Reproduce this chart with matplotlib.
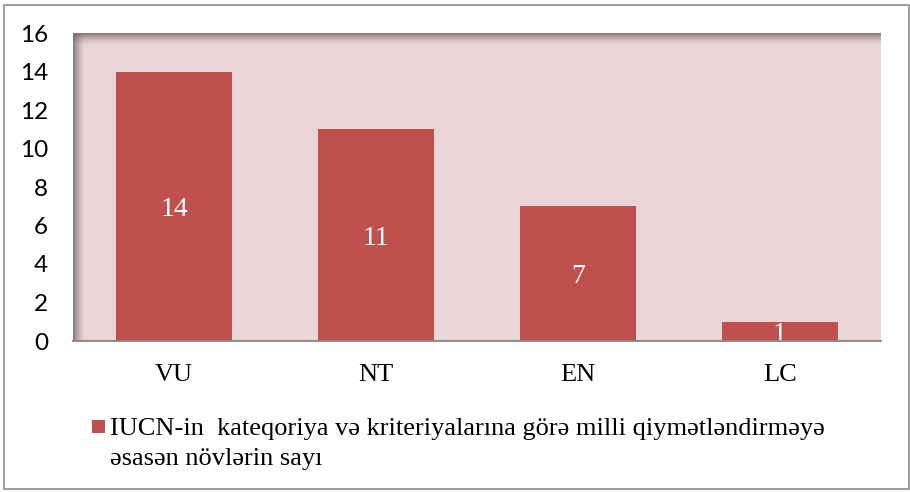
import matplotlib
matplotlib.use("Agg")
import matplotlib.pyplot as plt
import numpy as np
from matplotlib.patches import Rectangle

categories = ["VU", "NT", "EN", "LC"]
values = [14, 11, 7, 1]
yticks = [0, 2, 4, 6, 8, 10, 12, 14, 16]
legend_label = "IUCN-in  kateqoriya və kriteriyalarına görə milli qiymətləndirməyə\nəsasən növlərin sayı"

W, H = 910, 492
fig = plt.figure(figsize=(W / 100, H / 100), dpi=100)
fig.patch.set_facecolor("white")

# outer border
fig.patches.append(Rectangle((4 / W, 3 / H), 905 / W, 484 / H, transform=fig.transFigure,
                             fill=False, edgecolor="#8c8c8c", linewidth=1.2))

ax = fig.add_axes([73 / W, (H - 341) / H, 808 / W, 308 / H])
bg = "#EAD6D6"
ax.set_facecolor(bg)

# shadow gradients on top and left inner edges
n = 64
t = np.linspace(0, 1, n)
base = np.array([0.45, 0.40, 0.41])
top = np.zeros((n, 2, 4))
for i in range(n):
    top[i, :, :3] = base
    top[i, :, 3] = 0.85 * (1 - t[i]) ** 1.6
ax.imshow(top, extent=[0, 1, 1 - 13 / 308, 1], transform=ax.transAxes, aspect="auto", zorder=1,
          interpolation="bilinear")
left = np.zeros((2, n, 4))
for i in range(n):
    left[:, i, :3] = base
    left[:, i, 3] = 0.85 * (1 - t[i]) ** 1.6
ax.imshow(left, extent=[0, 13 / 808, 0, 1], transform=ax.transAxes, aspect="auto", zorder=1,
          interpolation="bilinear")

x = np.arange(len(categories))
bars = ax.bar(x, values, width=0.57, color="#C0504D", zorder=2)
for b, v in zip(bars, values):
    ax.text(b.get_x() + b.get_width() / 2, v / 2, str(v), ha="center", va="center_baseline",
            color="white", fontsize=20, family="Liberation Serif", zorder=3)

ax.set_xlim(-0.5, len(categories) - 0.5)
ax.set_ylim(0, 16)
ax.set_yticks(yticks)
ax.set_yticklabels([str(v) for v in yticks], family="Lato", fontsize=17.5)
ax.set_xticks(x)
ax.set_xticklabels(categories, family="Liberation Serif", fontsize=19)
ax.tick_params(axis="both", length=0)
ax.tick_params(axis="y", pad=18)
ax.tick_params(axis="x", pad=16.5)
for s in ["top", "right", "left"]:
    ax.spines[s].set_visible(False)
ax.spines["bottom"].set_color("#8c8c8c")
ax.spines["bottom"].set_linewidth(1.5)
ax.spines["bottom"].set_zorder(4)

# legend
fig.patches.append(Rectangle((92 / W, (H - 433) / H), 13 / W, 13 / H, transform=fig.transFigure,
                             facecolor="#C0504D", edgecolor="none"))
fig.text(110 / W, (H - 418) / H, legend_label, family="Liberation Serif", fontsize=19,
         va="top", ha="left", linespacing=1.5)

fig.savefig("out.png", dpi=100)
